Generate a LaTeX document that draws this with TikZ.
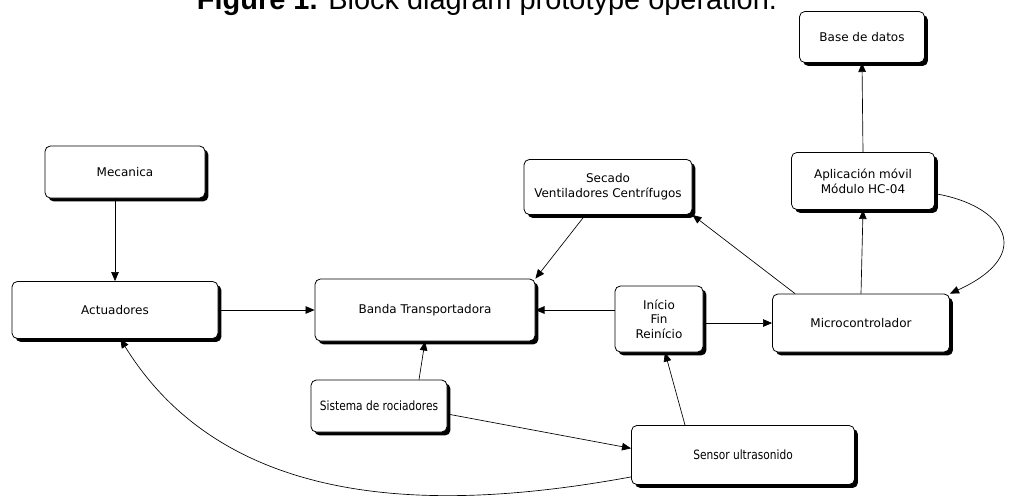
\documentclass[tikz,border=0pt]{standalone}
\usepackage{fontspec}
\setmainfont{DejaVu Sans}
\newfontfamily\titlefont{Liberation Sans}
\newfontfamily\narrowfont[FakeStretch=0.83]{DejaVu Sans}
\usetikzlibrary{positioning,arrows.meta,shadows}

\begin{document}
\begin{tikzpicture}[
  x=0.75pt,y=-0.75pt,
  font=\fontsize{9}{11}\selectfont,
  blk/.style={draw,line width=0.6pt,rounded corners=4pt,align=center,fill=white,inner sep=2pt,
    drop shadow={opacity=1,fill=black,shadow xshift=2.6pt,shadow yshift=-2.6pt}},
  nblk/.style={blk,font=\narrowfont\fontsize{9.6}{11}\selectfont},
  >={Triangle[length=2.4mm,width=2mm]},
  conn/.style={->,line width=0.5pt},
]
\useasboundingbox (0,0) rectangle (1009,501);

% title (cut at the top of the page)
\node[font=\titlefont\fontsize{21.7}{24}\selectfont,anchor=base] (title) at (487,9)
  {\textbf{Figure 1.} Block diagram prototype operation.};

% top row
\node[blk,minimum width=93.75pt,minimum height=38.25pt] (base) at (862,37) {Base de datos};
\node[blk,minimum width=120pt,minimum height=39pt] (mec) at (125,172) {Mecanica};
\node[blk,minimum width=126pt,minimum height=41.25pt] (sec) at (608,187) {Secado\\Ventiladores Centr\'ifugos};
\node[blk,minimum width=107.25pt,minimum height=42.75pt] (app) at (863,181) {Aplicaci\'on m\'ovil\\M\'odulo HC-04};

% middle row
\node[blk,minimum width=154.5pt,minimum height=42.75pt] (act) at (115,310) {Actuadores};
\node[blk,minimum width=165pt,minimum height=46.5pt] (banda) at (425,310) {Banda Transportadora};
\node[blk,minimum width=66pt,minimum height=49.5pt] (ini) at (659,319) {In\'icio\\Fin\\Rein\'icio};
\node[blk,minimum width=132.75pt,minimum height=43.5pt] (micro) at (861,323) {Microcontrolador};

% bottom row
\node[nblk,minimum width=102pt,minimum height=39pt] (sis) at (379,406) {Sistema de rociadores};
\node[nblk,minimum width=167.25pt,minimum height=44.25pt] (sen) at (743,455) {Sensor ultrasonido};

% edges
\draw[conn] (mec.south-|act.north) -- (act.north);
\draw[conn] (act.east) -- (banda.west);
\draw[conn] ([xshift=-17pt]sec.south) -- (banda.north east);
\draw[conn] ([xshift=-49.5pt]micro.north) -- (sec.south east);
\draw[conn] (micro.north) -- (app.south);
\draw[conn] (app.north) -- (base.south);
\draw[conn] (app.-10) .. controls +(68,11) and +(88,-40) .. (micro.north east);
\draw[conn] (ini.west|-banda.east) -- (banda.east);
\draw[conn] (ini.east|-micro.west) -- (micro.west);
\draw[conn] ([xshift=30pt]sis.north) -- (banda.south);
\draw[conn] ([yshift=-6pt]sis.east) -- ([yshift=5pt]sen.west);
\draw[conn] ([xshift=-43.5pt]sen.north) -- ([xshift=4.5pt]ini.south);
\draw[conn] ([yshift=6pt]sen.south west) .. controls +(-180,33) and +(110,178) .. ([xshift=4pt]act.south);
\end{tikzpicture}
\end{document}
